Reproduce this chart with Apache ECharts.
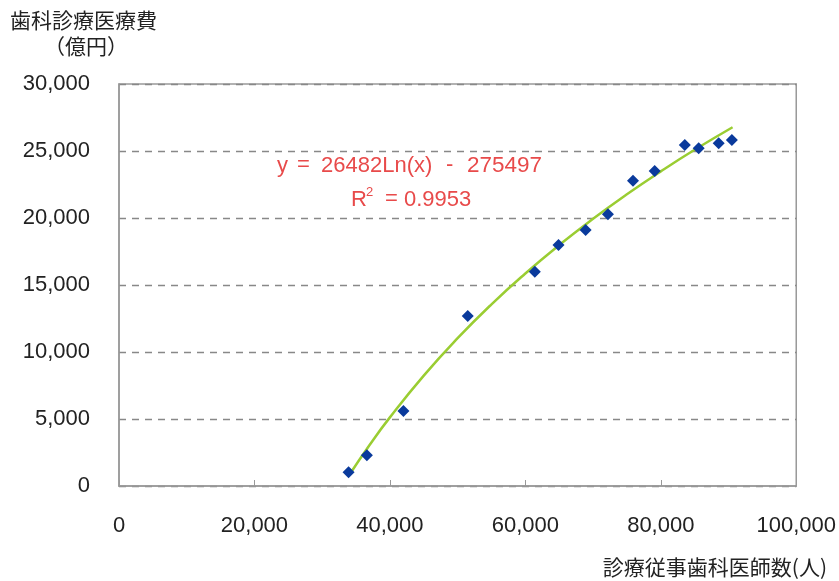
<!DOCTYPE html>
<html><head><meta charset="utf-8">
<script src="https://cdn.jsdelivr.net/npm/echarts@6/dist/echarts.min.js"></script>
<style>html,body{margin:0;padding:0;background:#fff}#c{width:839px;height:581px}</style>
</head><body><div id="c"></div>
<script>
// Observed data points: dentists (x) vs dental medical expenditure (100M yen)
const dentists = [33900, 36600, 42000, 51500, 61400, 64900, 68900, 72200, 75900, 79100, 83550, 85600, 88550, 90500];
const expenditure = [1020, 2290, 5600, 12690, 15990, 17990, 19100, 20280, 22780, 23510, 25450, 25200, 25580, 25820];
// Trend line samples
const trendX = [34000, 37000, 40000, 45000, 50000, 55000, 60000, 65000, 70000, 75000, 80000, 85000, 90600];
const trendY = [820, 3060, 5120, 8240, 11030, 13560, 15860, 17980, 19940, 21770, 23480, 25090, 26770];
const xTicks = [0, 20000, 40000, 60000, 80000, 100000];
const yTicks = [0, 5000, 10000, 15000, 20000, 25000, 30000];
const yTitle1 = '歯科診療医療費';
const yTitle2 = '（億円）';
const xTitle = '診療従事歯科医師数(人)';

const numFont = '"Liberation Sans", Arial, sans-serif';
const jpFont = '"Noto Sans CJK JP", sans-serif';
const red = '#e84a4a';
const fmt = v => v.toLocaleString('en-US');
const t = (x, y, text, size, fam, fill, align) => ({
  type: 'text', x: x, y: y,
  style: { text: text, font: size + 'px ' + fam, fill: fill, verticalAlign: 'middle', align: align || 'left' }
});

const chart = echarts.init(document.getElementById('c'));
chart.setOption({
  animation: false,
  backgroundColor: '#fff',
  grid: { left: 119, right: 41, top: 84, bottom: 95, show: true, borderColor: '#999', borderWidth: 1.5 },
  xAxis: {
    type: 'value', min: xTicks[0], max: xTicks[xTicks.length - 1], interval: 20000,
    axisLine: { show: true, lineStyle: { color: '#999', width: 1.5 } },
    axisTick: { show: true, inside: true, length: 6, lineStyle: { color: '#999' } },
    axisLabel: { formatter: fmt, margin: 29, color: '#222', fontSize: 22, fontFamily: numFont },
    splitLine: { show: false }
  },
  yAxis: {
    type: 'value', min: yTicks[0], max: yTicks[yTicks.length - 1], interval: 5000,
    axisLine: { show: true, lineStyle: { color: '#999', width: 1.5 } },
    axisTick: { show: false },
    axisLabel: { formatter: fmt, margin: 29, color: '#222', fontSize: 22, fontFamily: numFont },
    splitLine: { show: true, lineStyle: { color: '#888', type: [7, 6], width: 1.3 } }
  },
  series: [
    {
      type: 'line', data: trendX.map((x, i) => [x, trendY[i]]), smooth: true, symbol: 'none',
      lineStyle: { color: '#9acd32', width: 2.5 }, z: 2
    },
    {
      type: 'scatter', data: dentists.map((x, i) => [x, expenditure[i]]), symbol: 'diamond', symbolSize: 12,
      itemStyle: { color: '#0a3a9c', opacity: 1 }, z: 3
    }
  ],
  graphic: [
    t(10, 20, yTitle1, 21, jpFont, '#222'),
    t(44, 46, yTitle2, 21, jpFont, '#222'),
    t(827, 567, xTitle, 21, jpFont, '#222', 'right'),
    t(277, 166, 'y', 22, numFont, red),
    t(297, 165, '=', 22, numFont, red),
    t(321, 166, '26482Ln(x)', 22, numFont, red),
    t(446, 165, '-', 22, numFont, red),
    t(467, 166, '275497', 22.5, numFont, red),
    t(351, 200, 'R', 22, numFont, red),
    t(366, 192, '2', 13, numFont, red),
    t(385, 199, '=', 22, numFont, red),
    t(404, 200, '0.9953', 22, numFont, red)
  ]
});
</script></body></html>
